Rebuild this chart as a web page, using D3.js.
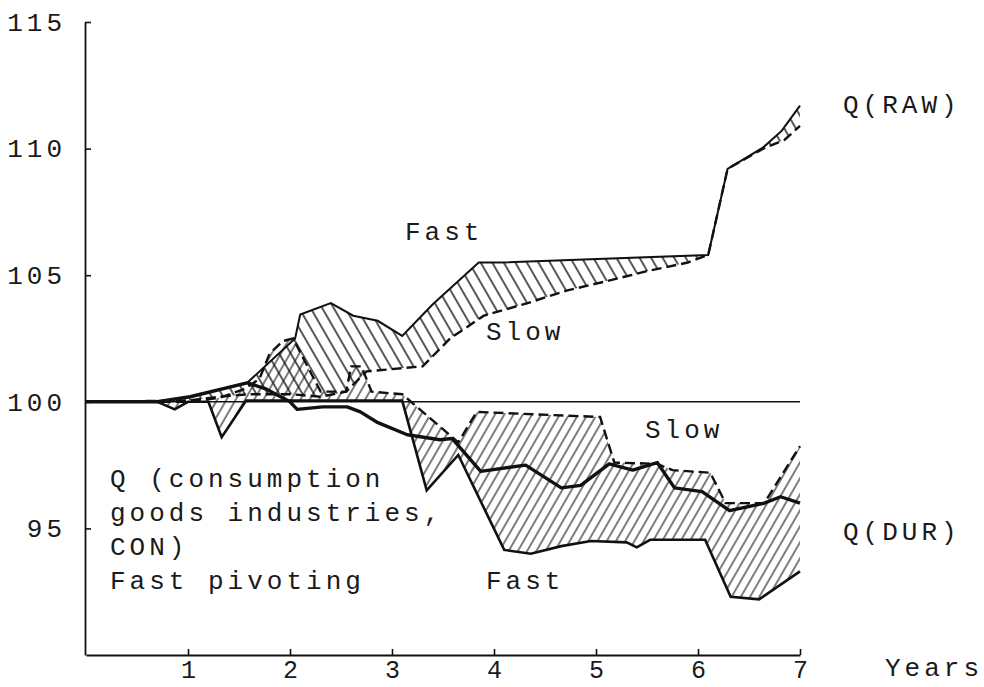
<!DOCTYPE html>
<html>
<head>
<meta charset="utf-8">
<script src="https://cdn.jsdelivr.net/npm/d3@7"></script>
<style>
    body { margin: 0; background: #fff; }
    text { font-family: "Courier New", "Liberation Mono", monospace; fill: #1a1a1a; }
</style>
</head>
<body>
<svg id="chart" width="984" height="687"></svg>
<script>
// x ticks (years) and y ticks (index, start = 100)
const years = [1, 2, 3, 4, 5, 6, 7];
const yTicks = [95, 100, 105, 110, 115];

// [year, index]
const rawFast = [[0,100],[0.7,100],[1.02,100.2],[1.58,100.75],[2.05,102.5],[2.1,103.45],[2.4,103.9],[2.62,103.4],
    [2.86,103.2],[3.1,102.6],[3.4,103.85],[3.85,105.5],[4.06,105.5],[6.1,105.8],[6.29,109.2],[6.64,110.05],
    [6.82,110.7],[7,111.7]];
const rawSlow = [[0,100],[1.0,100.05],[1.3,100.2],[1.6,100.3],[2.0,100.3],[2.3,100.2],[2.55,100.4],[2.75,101.2],
    [3.3,101.4],[3.57,102.5],[3.9,103.4],[4.33,103.9],[4.72,104.4],[5.1,104.76],[5.5,105.16],[5.9,105.5],
    [6.1,105.8],[6.29,109.2],[6.64,110.0],[6.85,110.35],[7,110.9]];
const durFast = [[0,100],[0.7,100],[0.87,99.7],[1.0,100],[1.2,100],[1.33,98.6],[1.57,100.05],[2.0,100.05],
    [3.1,100.05],[3.34,96.5],[3.65,97.9],[4.1,94.15],[4.36,94.0],[4.66,94.3],[4.95,94.5],[5.3,94.45],
    [5.4,94.25],[5.53,94.55],[6.07,94.55],[6.32,92.3],[6.6,92.2],[7,93.3]];
const durSlow = [[0,100],[1.0,100],[1.3,100.15],[1.55,100.5],[1.7,100.9],[1.8,101.9],[1.93,102.4],[2.03,102.5],
    [2.12,101.8],[2.3,100.4],[2.55,100.4],[2.6,101.4],[2.7,101.4],[2.8,100.4],[3.1,100.3],[3.65,98.4],
    [3.83,99.6],[5.04,99.4],[5.18,97.6],[5.6,97.55],[5.75,97.3],[6.12,97.2],[6.27,96.0],[6.65,96.0],[7,98.25]];
const conFast = [[0,100],[0.7,100],[1.02,100.2],[1.58,100.75],[1.77,100.5],[2.0,100],[2.07,99.7],[2.32,99.8],
    [2.56,99.8],[2.69,99.6],[2.85,99.2],[3.15,98.7],[3.47,98.5],[3.59,98.55],[3.87,97.25],[4.31,97.5],
    [4.66,96.6],[4.85,96.7],[5.13,97.55],[5.36,97.3],[5.6,97.6],[5.77,96.6],[6.04,96.45],[6.31,95.7],
    [6.65,96.0],[6.81,96.25],[7,96.0]];
const baseLevel = [[0,100],[7,100]];

const svg = d3.select('#chart');

const x = d3.scaleLinear().domain([0, 7]).range([86, 800]);
const y = d3.scaleLinear().domain([90, 115]).range([655, 22]);

const line = d3.line().x(d => x(d[0])).y(d => y(d[1]));

// hatch patterns: vertical strokes rotated
const defs = svg.append('defs');
function hatch(id, angle, gap, w) {
    defs.append('pattern')
        .attr('id', id)
        .attr('patternUnits', 'userSpaceOnUse')
        .attr('width', gap)
        .attr('height', 20)
        .attr('patternTransform', `rotate(${angle})`)
        .append('line')
        .attr('x1', gap / 2).attr('x2', gap / 2)
        .attr('y1', 0).attr('y2', 20)
        .attr('stroke', '#111')
        .attr('stroke-width', w);
}
hatch('hatchRaw', -30, 10, 1.4);
hatch('hatchDur', 30, 8, 1.1);

// band between fast and slow paths
function band(a, b) {
    return line(a.concat(b.slice().reverse())) + 'Z';
}

svg.append('path')
    .attr('d', band(rawFast, rawSlow))
    .attr('fill', 'url(#hatchRaw)');

svg.append('path')
    .attr('d', band(durFast, durSlow))
    .attr('fill', 'url(#hatchDur)');

// 100 reference level
svg.append('path')
    .attr('d', line(baseLevel))
    .attr('fill', 'none')
    .attr('stroke', '#111')
    .attr('stroke-width', 1.6);

// slow (dashed) paths
[rawSlow, durSlow].forEach(s => {
    svg.append('path')
        .attr('d', line(s))
        .attr('fill', 'none')
        .attr('stroke', '#111')
        .attr('stroke-width', 2.4)
        .attr('stroke-dasharray', '10,5');
});

// fast paths
svg.append('path')
    .attr('d', line(rawFast))
    .attr('fill', 'none')
    .attr('stroke', '#111')
    .attr('stroke-width', 2);

svg.append('path')
    .attr('d', line(durFast))
    .attr('fill', 'none')
    .attr('stroke', '#111')
    .attr('stroke-width', 2.6);

svg.append('path')
    .attr('d', line(conFast))
    .attr('fill', 'none')
    .attr('stroke', '#111')
    .attr('stroke-width', 3.4)
    .attr('stroke-linejoin', 'round');

// axes
const yAxis = d3.axisLeft(y)
    .tickValues(yTicks)
    .tickSizeInner(-6)
    .tickSizeOuter(0)
    .tickPadding(19);

const xAxis = d3.axisBottom(x)
    .tickValues(years)
    .tickFormat(d3.format('d'))
    .tickSizeInner(-6)
    .tickSizeOuter(0)
    .tickPadding(5);

const yAxisG = svg.append('g')
    .attr('transform', `translate(${x(0) - 1},0)`)
    .call(yAxis);

const xAxisG = svg.append('g')
    .attr('transform', `translate(0,${y(90)})`)
    .call(xAxis);

[yAxisG, xAxisG].forEach(g => {
    g.select('.domain').attr('stroke', '#111').attr('stroke-width', 1.8);
    g.selectAll('.tick line').attr('stroke', '#111').attr('stroke-width', 1.6);
    g.selectAll('.tick text')
        .style('font-family', '"Courier New", "Liberation Mono", monospace')
        .style('font-size', '26px')
        .style('letter-spacing', '4px')
        .attr('fill', '#1a1a1a');
});
xAxisG.selectAll('.tick text')
    .style('font-size', '25px')
    .style('letter-spacing', '0px');

// annotations
const notes = [
    {t: 'Q(RAW)', x: 843, y: 113},
    {t: 'Fast', x: 405, y: 240},
    {t: 'Slow', x: 486, y: 340},
    {t: 'Slow', x: 645, y: 438},
    {t: 'Q (consumption', x: 110, y: 487},
    {t: 'goods industries,', x: 110, y: 521},
    {t: 'CON)', x: 110, y: 555},
    {t: 'Fast pivoting', x: 110, y: 589},
    {t: 'Fast', x: 486, y: 589},
    {t: 'Q(DUR)', x: 843, y: 540},
    {t: 'Years', x: 885, y: 676}
];

svg.append('g')
    .selectAll('text')
    .data(notes)
    .join('text')
    .attr('x', d => d.x)
    .attr('y', d => d.y)
    .style('font-size', '26px')
    .style('letter-spacing', '4px')
    .style('white-space', 'pre')
    .text(d => d.t);
</script>
</body>
</html>
